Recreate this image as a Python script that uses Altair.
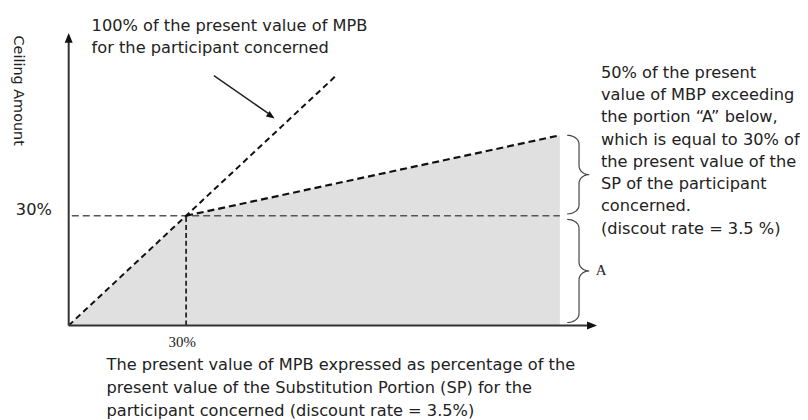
import altair as alt
import pandas as pd
import numpy as np

# ---- data (in percent units) ----
kink_x = 30          # 30% of SP
kink_y = 30          # ceiling at kink
end_x = 125.5        # right end of the shaded region
end_y = 52           # ceiling at right end
diag_end = 68        # end of the 100% (y = x) dashed line
x_max = 135
y_max = 80

top_label = ["100% of the present value of MPB", "for the participant concerned"]
right_label = ["50% of the present", "value of MBP exceeding", "the portion \u201cA\u201d below,",
               "which is equal to 30% of", "the present value of the", "SP of the participant",
               "concerned.", "(discout rate = 3.5 %)"]
bottom_label = ["The present value of MPB expressed as percentage of the",
                "present value of the Substitution Portion (SP) for the",
                "participant concerned (discount rate = 3.5%)"]
y_title = "Ceiling Amount"
tick_label = "30%"
portion_label = "A"

xs = alt.Scale(domain=[0, x_max], nice=False, zero=False)
ys = alt.Scale(domain=[0, y_max], nice=False, zero=False)


def X(f="x"):
    return alt.X(f + ":Q", scale=xs, axis=None)


def Y(f="y"):
    return alt.Y(f + ":Q", scale=ys, axis=None)


# shaded region
area_df = pd.DataFrame({"x": [0, kink_x, end_x], "y": [0, kink_y, end_y]})
area = alt.Chart(area_df).mark_area(color="#e0e0e0", opacity=1, interpolate="linear").encode(
    x=X(), y=Y(), y2=alt.datum(0))

# dashed lines
seg_df = pd.DataFrame({
    "x": [0, kink_x, 0.8, kink_x],
    "y": [0, kink_y, kink_y, 0],
    "x2": [diag_end, end_x, end_x, kink_x],
    "y2": [diag_end, end_y, kink_y, kink_y],
    "kind": ["diag", "upper", "horiz", "vert"],
})


def seg(kind, color, width, dash):
    return alt.Chart(seg_df[seg_df.kind == kind]).mark_rule(
        color=color, strokeWidth=width, strokeDash=dash).encode(
        x=X(), y=Y(), x2="x2:Q", y2="y2:Q")


diag = seg("diag", "#111", 2, [6, 4])
upper = seg("upper", "#111", 2.2, [7, 4])
horiz = seg("horiz", "#555", 1.6, [7, 4])
vert = seg("vert", "#111", 1.6, [5, 3])

# axes
axes_df = pd.DataFrame({"x": [0, 0], "y": [0, 0], "x2": [0, x_max - 2], "y2": [y_max - 2, 0]})
axes = alt.Chart(axes_df).mark_rule(color="#333", strokeWidth=2).encode(
    x=X(), y=Y(), x2="x2:Q", y2="y2:Q")

up_shape = "M0,0L0.8,2L-0.8,2Z"
right_shape = "M0,0L-2,-0.8L-2,0.8Z"
arrow_up = alt.Chart(pd.DataFrame({"x": [0], "y": [y_max]})).mark_point(
    shape=up_shape, filled=True, size=100, color="#111", opacity=1).encode(x=X(), y=Y())
arrow_right = alt.Chart(pd.DataFrame({"x": [x_max], "y": [0]})).mark_point(
    shape=right_shape, filled=True, size=100, color="#111", opacity=1).encode(x=X(), y=Y())

# pointer arrow to the 100% line
ptr_df = pd.DataFrame({"x": [37.1], "y": [68.3], "x2": [51.0], "y2": [58.0]})
ptr = alt.Chart(ptr_df).mark_rule(color="#222", strokeWidth=1.5).encode(
    x=X(), y=Y(), x2="x2:Q", y2="y2:Q")
ptr_head = alt.Chart(pd.DataFrame({"x": [52.6], "y": [56.6]})).mark_point(
    shape=up_shape, filled=True, size=70, color="#111", opacity=1, angle=125).encode(x=X(), y=Y())


# braces
def brace(x_end, x_spine, x_tip, top, bottom, r, n=10):
    mid = (top + bottom) / 2
    t = np.linspace(0, np.pi / 2, n)
    pts = []
    for a in t:
        pts.append((x_end + (x_spine - x_end) * np.sin(a), top - r + r * np.cos(a)))
    for a in t:
        pts.append((x_spine + (x_tip - x_spine) * (1 - np.cos(a)), mid + r - r * np.sin(a)))
    for a in t[::-1]:
        pts.append((x_spine + (x_tip - x_spine) * (1 - np.cos(a)), mid - r + r * np.sin(a)))
    for a in t[::-1]:
        pts.append((x_end + (x_spine - x_end) * np.sin(a), bottom + r - r * np.cos(a)))
    return pts


br_rows = []
for name, (top, bottom) in {"upper": (end_y, kink_y + 0.5), "lower": (kink_y - 1, 0.8)}.items():
    for i, (bx, by) in enumerate(brace(127.4, 130.4, 133.0, top, bottom, 2.4)):
        br_rows.append({"b": name, "i": i, "x": bx, "y": by})
braces = alt.Chart(pd.DataFrame(br_rows)).mark_line(color="#444", strokeWidth=1.2).encode(
    x=X(), y=Y(), detail="b:N", order="i:Q")

# texts
sans = "DejaVu Sans"
serif = "Liberation Serif"
txt_color = "#222"


def label(lines, x, y, size=16.3, font=sans, align="left", angle=0, lh=22.5, baseline="middle"):
    kw = dict(align=align, baseline=baseline, font=font, fontSize=size, color=txt_color,
              lineHeight=lh, text=lines)
    if angle:
        kw["angle"] = angle
    return alt.Chart(pd.DataFrame({"x": [x], "y": [y]})).mark_text(**kw).encode(x=X(), y=Y())


t_top = label(top_label, 5.85, 81.9, lh=22)
t_right = label(right_label, 136.0, 69.1, lh=22.4)
t_bottom = label(bottom_label, 9.66, -10.9, lh=23)
t_ytitle = label(y_title, -12.97, 64.2, size=14.5, align="center", angle=90)
t_y30 = label(tick_label, -4.3, 31.6, size=16.3, align="right")
t_x30 = label(tick_label, 29.0, -4.6, size=15, font=serif, align="center")
t_a = label(portion_label, 134.7, 15.2, size=15, font=serif)

chart = alt.layer(
    area, horiz, vert, diag, upper, axes, arrow_up, arrow_right, ptr, ptr_head, braces,
    t_top, t_right, t_bottom, t_ytitle, t_y30, t_x30, t_a
).properties(
    width=531, height=294,
    autosize=alt.AutoSizeParams(type="none"),
    padding={"left": 61, "top": 24, "right": 204, "bottom": 94},
    background="white",
).configure_view(strokeWidth=0)

chart.save("out.html", embed_options={"renderer": "svg", "actions": False})
